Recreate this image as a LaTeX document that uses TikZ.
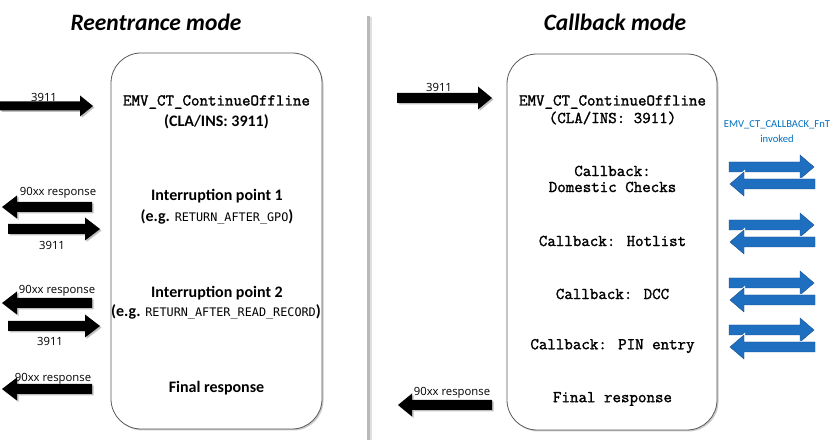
\documentclass[tikz,border=0pt]{standalone}
\usepackage{fontspec}
\setmainfont{Carlito}
\newfontfamily\consf{DejaVu Sans Mono}
\newfontfamily\labf{Open Sans}
\newfontfamily\courb[FakeBold=1.6]{Latin Modern Mono}
\definecolor{cbblue}{HTML}{1F6FC1}
\definecolor{cbdark}{HTML}{1A4F8A}
\definecolor{lblblue}{HTML}{0070C0}
% \harrow{style}{xtail}{xtip}{y}{signed head length}{body half}{head half}
\newcommand\harrow[7]{%
  \fill[black, opacity=0.25, xshift=1.5pt, yshift=-1.5pt]
    (#2,{#4-#6}) -- ({#3-#5},{#4-#6}) -- ({#3-#5},{#4-#7}) -- (#3,#4)
    -- ({#3-#5},{#4+#7}) -- ({#3-#5},{#4+#6}) -- (#2,{#4+#6}) -- cycle;
  \path[#1]
    (#2,{#4-#6}) -- ({#3-#5},{#4-#6}) -- ({#3-#5},{#4-#7}) -- (#3,#4)
    -- ({#3-#5},{#4+#7}) -- ({#3-#5},{#4+#6}) -- (#2,{#4+#6}) -- cycle;}
\newcommand\barrowb[7]{%
  \path[#1]
    (#2,{#4-#6}) -- ({#3-#5},{#4-#6}) -- ({#3-#5},{#4-#7}) -- (#3,#4)
    -- ({#3-#5},{#4+#7}) -- ({#3-#5},{#4+#6}) -- (#2,{#4+#6}) -- cycle;}
\begin{document}
\begin{tikzpicture}[x=1pt,y=-1pt,
  panel/.style={draw=black!65, line width=0.8pt, rounded corners=30pt, fill=white, inner sep=0pt},
  blk/.style={fill=black},
  blu/.style={preaction={draw=white, line width=2.2pt}, fill=cbblue, draw=cbdark, line width=0.4pt},
  ttl/.style={font=\bfseries\itshape\fontsize{23.5}{26}\selectfont, inner sep=0pt},
  mono/.style={font=\courb\fontsize{16.5}{18}\selectfont, inner sep=0pt},
  bd/.style={font=\bfseries\fontsize{16}{18}\selectfont, inner sep=0pt},
  lab/.style={font=\labf\fontsize{11.3}{13}\selectfont, inner sep=0pt},
  blab/.style={font=\fontsize{10.6}{12}\selectfont, text=lblblue, inner sep=0pt}]
\useasboundingbox (0,0) rectangle (836,443);
\fill[white] (0,0) rectangle (836,443);
% separator
\draw[gray!25, line width=2pt] (371,17) -- (371,440);
\draw[gray!55, line width=2.6pt] (368.5,16) -- (368.5,440);
% titles
\node[ttl] (t1) at (156,22) {Reentrance mode};
\node[ttl] (t2) at (615,22) {Callback mode};
% panels
\fill[black, opacity=0.2, rounded corners=30pt] (112.5,55) rectangle (323.5,430.5);
\node[panel, minimum width=211pt, minimum height=376pt] (lbox) at (216.5,241) {};
\fill[black, opacity=0.2, rounded corners=30pt] (508.5,56) rectangle (718.5,431.5);
\node[panel, minimum width=210pt, minimum height=376pt] (rbox) at (612,242) {};
% left panel texts
\node[mono] (l1) at (216.5,102) {EMV\_CT\_ContinueOffline};
\node[bd] (l2) at (216.5,122) {(CLA/INS: 3911)};
\node[bd] (l3) at (217,196) {Interruption point 1};
\node[bd] (l4) at (217,217) {(e.g. {\consf\mdseries\fontsize{11.8}{14}\selectfont RETURN\_AFTER\_GPO})};
\node[bd] (l5) at (217,293) {Interruption point 2};
\node[bd] (l6) at (216,312) {(e.g. {\consf\mdseries\fontsize{11.8}{14}\selectfont RETURN\_AFTER\_READ\_RECORD})};
\node[bd] (l7) at (216.5,388) {Final response};
% right panel texts
\node[mono] (r1) at (612.5,102) {EMV\_CT\_ContinueOffline};
\node[mono] (r2) at (612.5,118) {(CLA/INS: 3911)};
\node[mono] (r3) at (612.5,171) {Callback:};
\node[mono] (r4) at (612.5,187) {Domestic Checks};
\node[mono] (r5) at (612.5,241) {Callback: Hotlist};
\node[mono] (r6) at (612.5,294) {Callback: DCC};
\node[mono] (r7) at (612.5,346) {Callback: PIN entry};
\node[mono] (r8) at (612.5,399) {Final response};
% left arrows
\harrow{blk}{0}{93}{106}{13}{4.5}{10.5}
\node[lab] (a1) at (44,97) {3911};
\harrow{blk}{92}{2}{207}{-15}{5}{11.5}
\node[lab] (a2) at (58,193) {90xx response};
\harrow{blk}{8}{100}{229}{15}{5}{11.5}
\node[lab] (a3) at (52,245) {3911};
\harrow{blk}{92}{2}{303}{-15}{5}{11.5}
\node[lab] (a4) at (57,291) {90xx response};
\harrow{blk}{8}{100}{326}{15}{5}{11.5}
\node[lab] (a5) at (50,341) {3911};
\harrow{blk}{92}{2}{389}{-15}{5}{11.5}
\node[lab] (a6) at (53,379) {90xx response};
% right side black arrows
\harrow{blk}{397}{492}{98}{14}{5}{11.5}
\node[lab] (a7) at (439,87) {3911};
\harrow{blk}{492}{398}{405}{-14}{5}{11.5}
\node[lab] (a8) at (452,393) {90xx response};
% blue arrows
\node[blab] (b0) at (777,125) {EMV\_CT\_CALLBACK\_FnT};
\node[blab] (b1) at (777,139) {invoked};
\barrowb{blu}{729}{814}{167}{14}{5}{12}
\barrowb{blu}{815}{730}{184}{-14}{5}{12}
\barrowb{blu}{729}{814}{225}{14}{5}{12}
\barrowb{blu}{815}{730}{242}{-14}{5}{12}
\barrowb{blu}{729}{814}{283}{14}{5}{12}
\barrowb{blu}{815}{730}{300}{-14}{5}{12}
\barrowb{blu}{729}{814}{330}{14}{5}{12}
\barrowb{blu}{815}{730}{347}{-14}{5}{12}
\end{tikzpicture}
\end{document}
